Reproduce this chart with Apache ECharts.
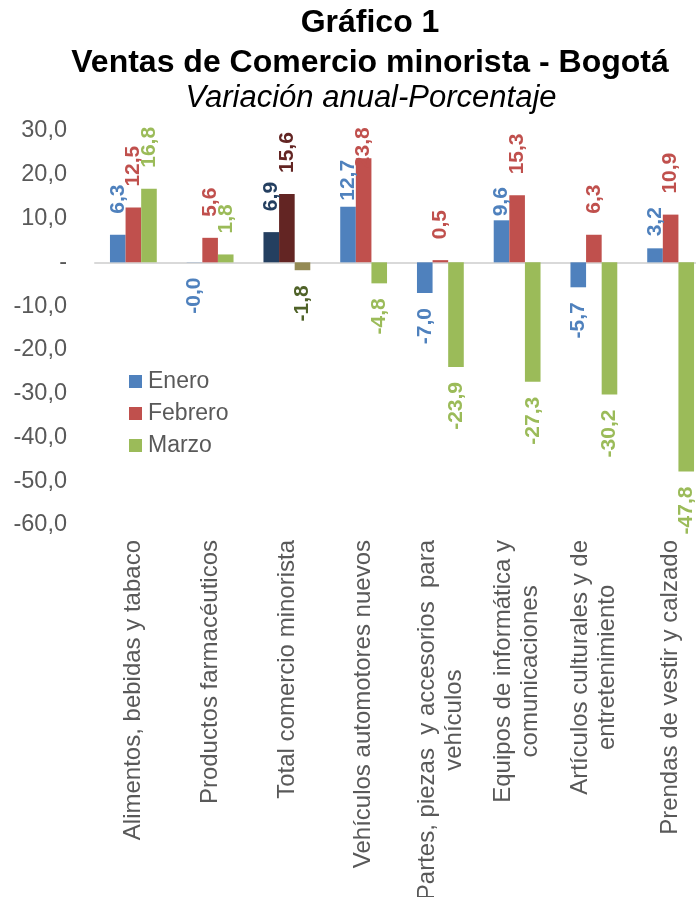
<!DOCTYPE html>
<html><head><meta charset="utf-8">
<script src="https://cdn.jsdelivr.net/npm/echarts@6/dist/echarts.min.js"></script>
<style>html,body{margin:0;padding:0;background:#fff}#c{width:696px;height:897px}</style>
</head><body><div id="c"></div>
<script>
const categories = [
  'Alimentos, bebidas y tabaco',
  'Productos farmacéuticos',
  'Total comercio minorista',
  'Vehículos automotores nuevos',
  'Partes, piezas  y accesorios  para\nvehículos',
  'Equipos de informática y\ncomunicaciones',
  'Artículos culturales y de\nentretenimiento',
  'Prendas de vestir y calzado'
];
const seriesNames = ['Enero', 'Febrero', 'Marzo'];
const enero   = [6.3, -0.04, 6.9, 12.7, -7.0, 9.6, -5.7, 3.2];
const febrero = [12.5, 5.6, 15.6, 23.8, 0.5, 15.3, 6.3, 10.9];
const marzo   = [16.8, 1.8, -1.8, -4.8, -23.9, -27.3, -30.2, -47.8];
const yMin = -60, yMax = 30, yStep = 10;

// styling (kept apart from data)
const FONT = "'Liberation Sans', Arial, sans-serif";
const GRAY = '#595959';
const baseColors = ['#4F81BD', '#C0504D', '#9BBB59'];
const totalIndex = 2;
const totalBarColors = ['#243F60', '#632523', '#948A54'];
const totalLabelColors = ['#243F60', '#632523', '#4F6228'];
// label distance from the bar end, per series and category
const labelGaps = [
  [21, 15, 21, 6, 15, 4, 15, 12],
  [21, 21, 21, -10, 21, 21, 21, 21],
  [21, 21, 15, 15, 15, 15, 15, 15]
];

const fmt = v => (v === 0 ? '-' : Number(v).toFixed(1).replace('.', ','));

function makeItems(vals, s) {
  return vals.map((v, i) => {
    const pos = v >= 0;
    const it = {
      value: v,
      label: { position: pos ? 'top' : 'bottom', align: pos ? 'left' : 'right', distance: labelGaps[s][i] }
    };
    if (i === totalIndex) {
      it.itemStyle = { color: totalBarColors[s] };
      it.label.color = totalLabelColors[s];
    }
    return it;
  });
}

const allVals = [enero, febrero, marzo];
const series = allVals.map((vals, s) => ({
  name: seriesNames[s],
  type: 'bar',
  xAxisIndex: 0,
  barGap: '0%',
  barCategoryGap: '39%',
  color: baseColors[s],
  itemStyle: { color: baseColors[s] },
  label: {
    show: true,
    rotate: 90,
    verticalAlign: 'middle',
    fontFamily: FONT,
    fontSize: 21,
    fontWeight: 'bold',
    color: baseColors[s],
    formatter: p => fmt(p.value)
  },
  emphasis: { disabled: true },
  data: makeItems(vals, s)
}));

const chart = echarts.init(document.getElementById('c'), null, { renderer: 'canvas' });
chart.setOption({
  animation: false,
  backgroundColor: '#fff',
  title: [
    { text: 'Gráfico 1', left: 370, textAlign: 'center', top: 7, padding: 0,
      textStyle: { fontFamily: FONT, fontSize: 32, fontWeight: 'bold', color: '#000' } },
    { text: 'Ventas de Comercio minorista - Bogotá', left: 370, textAlign: 'center', top: 47, padding: 0,
      textStyle: { fontFamily: FONT, fontSize: 32, fontWeight: 'bold', color: '#000' } },
    { text: 'Variación anual-Porcentaje', left: 371, textAlign: 'center', top: 83, padding: 0,
      textStyle: { fontFamily: FONT, fontSize: 31, fontWeight: 'normal', fontStyle: 'italic', color: '#000' } }
  ],
  legend: {
    data: seriesNames,
    orient: 'vertical',
    left: 129, top: 370, padding: 0,
    itemWidth: 13, itemHeight: 13, itemGap: 9,
    icon: 'rect',
    selectedMode: false,
    textStyle: { fontFamily: FONT, fontSize: 23, color: GRAY, padding: [0, 0, 0, 1] }
  },
  grid: { left: 95, width: 614, top: 131, bottom: 372, containLabel: false, outerBoundsMode: 'none' },
  xAxis: [
    {
      type: 'category', data: categories, position: 'bottom',
      axisLine: { show: false, onZero: false },
      axisTick: { show: false },
      axisLabel: {
        interval: 0, rotate: 90, margin: 15,
        fontFamily: FONT, fontSize: 24, color: GRAY,
        formatter: v => v.split('\n').map(l => '{c|' + l + '}').join('\n'),
        rich: { c: { align: 'center', fontFamily: FONT, fontSize: 24, color: GRAY, lineHeight: 27 } }
      }
    },
    {
      type: 'category', data: categories, position: 'top',
      axisLine: { show: true, onZero: true, lineStyle: { color: '#D9D9D9', width: 2 } },
      axisTick: { show: false },
      axisLabel: { show: false }
    }
  ],
  yAxis: {
    type: 'value', min: yMin, max: yMax, interval: yStep,
    axisLine: { show: false }, axisTick: { show: false }, splitLine: { show: false },
    axisLabel: { margin: 28, fontFamily: FONT, fontSize: 23.5, color: GRAY, formatter: v => fmt(v) }
  },
  series: series
});
</script></body></html>
